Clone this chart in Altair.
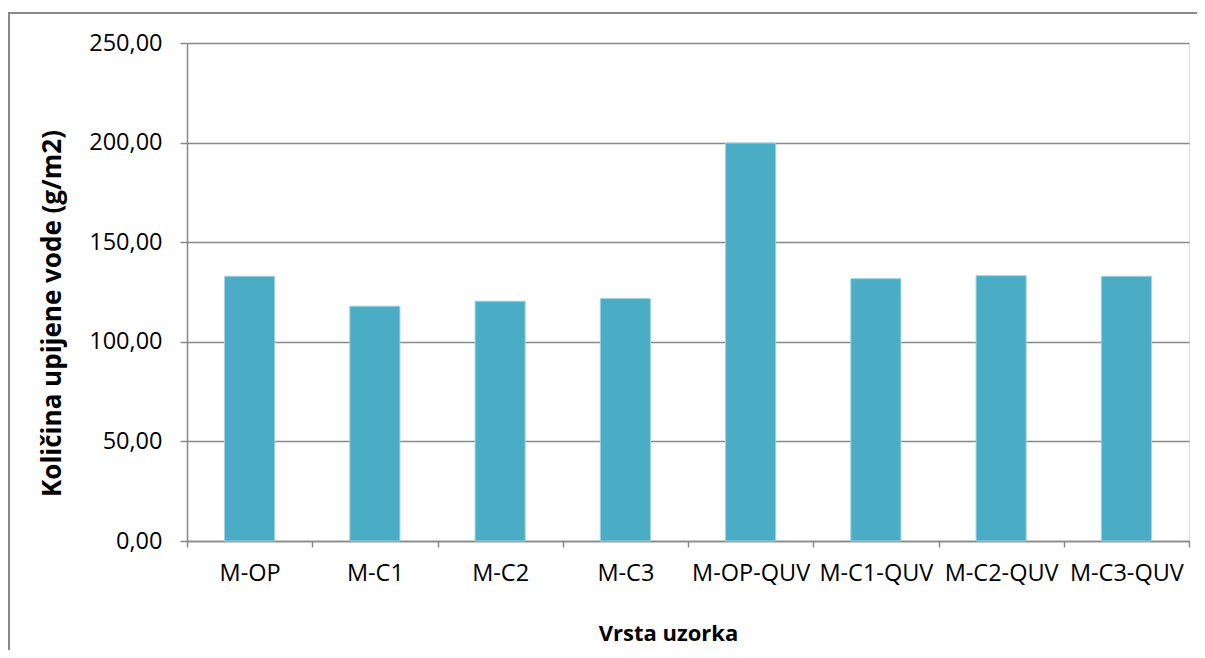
import altair as alt
import pandas as pd

categories = ["M-OP", "M-C1", "M-C2", "M-C3", "M-OP-QUV", "M-C1-QUV", "M-C2-QUV", "M-C3-QUV"]
values = [132.9, 117.9, 120.4, 121.7, 199.8, 131.7, 133.2, 132.9]
y_ticks = [0, 50, 100, 150, 200, 250]

df = pd.DataFrame({"kat": categories, "val": values})

FONT = "Open Sans"
GRAY = "#888888"

bars = alt.Chart(df).mark_bar(
    color="#4BACC6", stroke="#9fd3e3", strokeWidth=1,
    width=alt.RelativeBandSize(0.4)
).encode(
    x=alt.X("kat:N", sort=categories,
            scale=alt.Scale(paddingInner=0, paddingOuter=0),
            axis=alt.Axis(
                title="Vrsta uzorka", labelAngle=0, labelFont=FONT, labelFontSize=23.5,
                labelColor="#000000", labelPadding=14, tickBand="extent",
                tickSize=6, tickColor=GRAY, tickWidth=1.5,
                domainColor=GRAY, domainWidth=1.5, grid=False,
                titleFont=FONT, titleFontSize=22, titleFontWeight="bold",
                titleColor="#000000", titleX=481, titleY=99,
                titleAlign="center", titleBaseline="alphabetic",
                labelOverlap=False)),
    y=alt.Y("val:Q", scale=alt.Scale(domain=[0, 250]),
            axis=alt.Axis(
                title="Količina upijene vode (g/m2)", values=y_ticks,
                labelExpr="replace(format(datum.value, '.2f'), '.', ',')",
                labelFont=FONT, labelFontSize=23.5, labelColor="#000000",
                labelPadding=18, tickSize=7, tickColor=GRAY, tickWidth=1.5,
                domainColor=GRAY, domainWidth=1.5,
                grid=True, gridColor=GRAY, gridWidth=1.5,
                titleFont=FONT, titleFontSize=26, titleFontWeight="bold",
                titleColor="#000000", titleX=-135, titleY=270, titleAngle=270,
                titleAlign="center", titleBaseline="middle")),
)

border = alt.Chart(df).mark_rect(filled=False, stroke=GRAY, strokeWidth=1.5).encode(
    x=alt.value(-178), x2=alt.value(1100), y=alt.value(-30), y2=alt.value(700)
)

chart = alt.layer(border, bars).properties(
    width=1002, height=498,
    autosize=alt.AutoSizeParams(type="none"),
    padding={"left": 179, "top": 35, "right": 8, "bottom": 109},
).configure_view(strokeWidth=0).configure(background="white")

chart.save("out.html", embed_options={"renderer": "svg", "actions": False})
